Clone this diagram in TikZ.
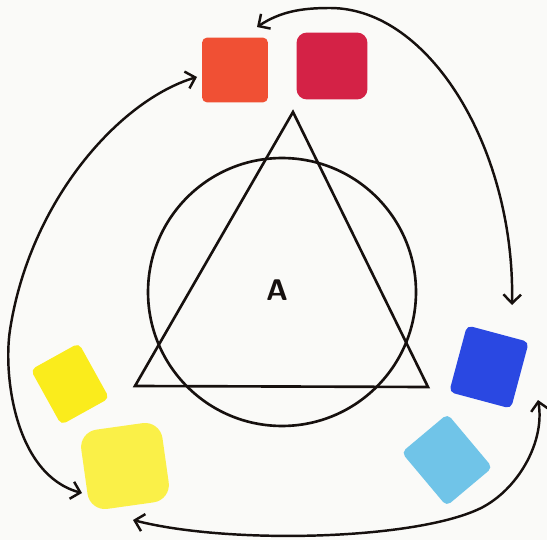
\documentclass[tikz,border=0pt]{standalone}
\usetikzlibrary{arrows.meta}
\definecolor{paper}{RGB}{250,250,248}
\definecolor{cred}{RGB}{240,80,52}
\definecolor{ccrim}{RGB}{212,34,70}
\definecolor{cyel}{RGB}{250,236,28}
\definecolor{cyel2}{RGB}{250,240,72}
\definecolor{cblue}{RGB}{42,72,226}
\definecolor{clblue}{RGB}{112,196,232}
\definecolor{ink}{RGB}{22,16,14}
\tikzset{
  patch/.style={draw=none, rectangle, rounded corners=3pt, inner sep=0pt},
  ln/.style={draw=ink, line width=1.5pt},
  arr/.style={draw=ink, line width=1.4pt, line cap=round, {Straight Barb[length=5pt,width=10pt]}-{Straight Barb[length=5pt,width=10pt]}}
}
\begin{document}
\begin{tikzpicture}[x=0.02cm, y=-0.02cm]
\path[use as bounding box, fill=paper] (0,0) rectangle (547,540);
% colour patches
\node[patch, fill=cred, minimum width=1.32cm, minimum height=1.30cm] (r1) at (235,70) {};
\node[patch, fill=ccrim, minimum width=1.42cm, minimum height=1.34cm, rounded corners=6pt] (r2) at (332,66) {};
\node[patch, fill=cyel, minimum width=1.1cm, minimum height=1.26cm, rotate=29] (y1) at (70,384) {};
\node[patch, fill=cyel2, minimum width=1.64cm, minimum height=1.60cm, rounded corners=10pt, rotate=8] (y2) at (125,466) {};
\node[patch, fill=cblue, minimum width=1.28cm, minimum height=1.38cm, rotate=-15] (b1) at (489,367) {};
\node[patch, fill=clblue, minimum width=1.2cm, minimum height=1.40cm, rotate=40] (b2) at (447,460) {};
% circle, triangle, label
\node[ln, circle, minimum size=5.36cm, inner sep=0pt] (circ) at (282,292) {};
\coordinate (ta) at (293,112);
\coordinate (tb) at (135,386);
\coordinate (tc) at (428,387);
\draw[ln, line join=miter] (ta) -- (tb) -- (tc) -- cycle;
\node[font=\sffamily\bfseries\fontsize{17}{17}\selectfont, text=ink] (lab) at (277,290) {A};
% arrows
\draw[arr] ([shift={(22,-43)}]r1.center) .. controls (280,12) and (300,8) .. (330,8)
  .. controls (430,8) and (515,150) .. ([shift={(23,-62)}]b1.center);
\draw[arr] ([shift={(-38,7)}]r1.center) .. controls (120,100) and (30,200) .. (10,330)
  .. controls (3,375) and (15,475) .. ([shift={(-43,27)}]y2.center);
\draw[arr] ([shift={(8,54)}]y2.center) .. controls (230,545) and (420,540) .. (483,507)
  .. controls (520,487) and (545,440) .. ([shift={(49,33)}]b1.center);
\end{tikzpicture}
\end{document}
